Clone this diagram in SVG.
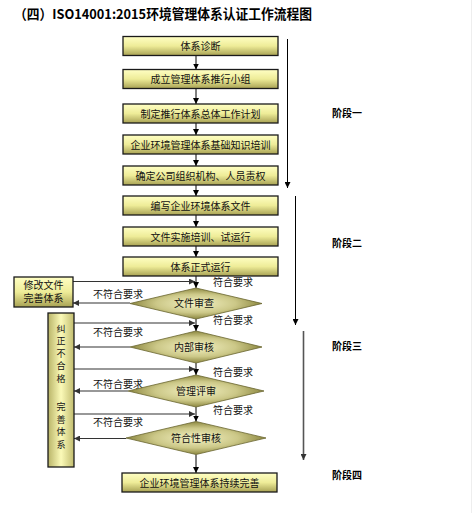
<svg xmlns="http://www.w3.org/2000/svg" width="472" height="513" viewBox="0 0 472 513">
<defs>
<linearGradient id="gBox" x1="0" y1="0" x2="0" y2="1">
<stop offset="0" stop-color="#ffffc4"/>
<stop offset="0.5" stop-color="#eeec98"/>
<stop offset="1" stop-color="#a8a254"/>
</linearGradient>
<linearGradient id="gTall" x1="0" y1="0" x2="1" y2="0">
<stop offset="0" stop-color="#b9b468"/>
<stop offset="0.5" stop-color="#fbfab8"/>
<stop offset="1" stop-color="#c2bd70"/>
</linearGradient>
<radialGradient id="gDia" cx="0.5" cy="0.5" r="0.5">
<stop offset="0" stop-color="#f4f2c4"/>
<stop offset="0.6" stop-color="#ccc888"/>
<stop offset="1" stop-color="#8c8740"/>
</radialGradient>
<marker id="ah" markerUnits="userSpaceOnUse" markerWidth="6" markerHeight="6" refX="6" refY="3" orient="auto">
<path d="M0,0 L6,3 L0,6 z" fill="#000"/>
</marker>
<marker id="ahg" markerUnits="userSpaceOnUse" markerWidth="6" markerHeight="6" refX="6" refY="3" orient="auto">
<path d="M0,0 L6,3 L0,6 z" fill="#333"/>
</marker>
</defs>
<style>
.box{fill:url(#gBox);stroke:#1a1a1a;stroke-width:1.3}
.tall{fill:url(#gTall);stroke:#1a1a1a;stroke-width:1.3}
.dia{fill:url(#gDia);stroke:#6a6630;stroke-width:0.8}
.t{font-family:"Noto Sans CJK SC","Liberation Sans",sans-serif;font-size:10px;fill:#111;text-anchor:middle}
.v{font-family:"Noto Sans CJK SC","Liberation Sans",sans-serif;font-size:9px;fill:#111;text-anchor:middle}
.lab{font-family:"Noto Sans CJK SC","Liberation Sans",sans-serif;font-size:10px;fill:#111}
.stage{font-family:"Noto Sans CJK SC","Liberation Sans",sans-serif;font-size:10px;font-weight:bold;fill:#000}
.title{font-family:"Noto Sans CJK SC","Liberation Serif",serif;font-size:13.5px;font-weight:bold;fill:#000}
.ln{stroke:#000;stroke-width:1;fill:none;marker-end:url(#ah)}
.fb{stroke:#333;stroke-width:1.2;fill:none;marker-end:url(#ahg)}
</style>
<rect x="0" y="0" width="472" height="513" fill="#fff"/>
<rect x="471" y="0" width="1" height="513" fill="#eeeeee"/>
<text class="title" x="14" y="19" textLength="298" lengthAdjust="spacingAndGlyphs">（四）ISO14001:2015环境管理体系认证工作流程图</text>

<g id="connectors">
<line class="ln" x1="196" y1="55.5" x2="196" y2="69.5"/>
<line class="ln" x1="196" y1="88.5" x2="196" y2="104"/>
<line class="ln" x1="196" y1="123" x2="196" y2="135"/>
<line class="ln" x1="196" y1="154" x2="196" y2="166"/>
<line class="ln" x1="196" y1="185" x2="196" y2="196"/>
<line class="ln" x1="196" y1="215" x2="196" y2="227"/>
<line class="ln" x1="196" y1="246" x2="196" y2="257"/>
<line class="ln" x1="196" y1="276" x2="196" y2="288"/>
<line class="ln" x1="196" y1="319" x2="196" y2="331"/>
<line class="ln" x1="196" y1="363" x2="196" y2="375"/>
<line class="ln" x1="196" y1="407" x2="196" y2="421.5"/>
<line class="ln" x1="196" y1="454.5" x2="196" y2="473"/>
<line class="fb" x1="73" y1="281.5" x2="195" y2="281.5"/>
<line class="fb" x1="130" y1="303" x2="73" y2="303"/>
<line class="fb" x1="74" y1="323" x2="195" y2="323"/>
<line class="fb" x1="130" y1="347" x2="74" y2="347"/>
<line class="fb" x1="74" y1="369" x2="195" y2="369"/>
<line class="fb" x1="128" y1="391" x2="74" y2="391"/>
<line class="fb" x1="74" y1="414" x2="195" y2="414"/>
<line class="fb" x1="126" y1="438.5" x2="74" y2="438.5"/>
<line class="ln" x1="287.5" y1="39" x2="287.5" y2="188"/>
<line class="ln" x1="295.5" y1="196" x2="295.5" y2="325"/>
<line class="fb" x1="303.5" y1="331" x2="303.5" y2="460" style="stroke:#555;stroke-width:1.6"/>
</g>

<g id="labels">
<text class="lab" x="93" y="298">不符合要求</text>
<text class="lab" x="93" y="335.5">不符合要求</text>
<text class="lab" x="93" y="388">不符合要求</text>
<text class="lab" x="93" y="426">不符合要求</text>
<text class="lab" x="213" y="285.5">符合要求</text>
<text class="lab" x="213" y="323.5">符合要求</text>
<text class="lab" x="213" y="375.5">符合要求</text>
<text class="lab" x="213" y="413.5">符合要求</text>
<text class="stage" x="332" y="117">阶段一</text>
<text class="stage" x="332" y="246.5">阶段二</text>
<text class="stage" x="332" y="350">阶段三</text>
<text class="stage" x="332" y="478.5">阶段四</text>
</g>

<g id="n1"><rect class="box" x="123" y="36.5" width="155" height="19"/><text class="t" x="200.5" y="50">体系诊断</text></g>
<g id="n2"><rect class="box" x="123" y="69.5" width="155" height="19"/><text class="t" x="200.5" y="83">成立管理体系推行小组</text></g>
<g id="n3"><rect class="box" x="123" y="104" width="155" height="19"/><text class="t" x="200.5" y="117.5">制定推行体系总体工作计划</text></g>
<g id="n4"><rect class="box" x="123" y="135" width="155" height="19"/><text class="t" x="200.5" y="148.5">企业环境管理体系基础知识培训</text></g>
<g id="n5"><rect class="box" x="123" y="166" width="155" height="19"/><text class="t" x="200.5" y="179.5">确定公司组织机构、人员责权</text></g>
<g id="n6"><rect class="box" x="123" y="196" width="155" height="19"/><text class="t" x="200.5" y="209.5">编写企业环境体系文件</text></g>
<g id="n7"><rect class="box" x="123" y="227" width="155" height="19"/><text class="t" x="200.5" y="240.5">文件实施培训、试运行</text></g>
<g id="n8"><rect class="box" x="123" y="257" width="155" height="19"/><text class="t" x="200.5" y="270.5">体系正式运行</text></g>

<g id="d1"><polygon class="dia" points="130,303.5 196,288 262,303.5 196,319"/><text class="t" x="194" y="307">文件审查</text></g>
<g id="d2"><polygon class="dia" points="130,347 196,331 262,347 196,363"/><text class="t" x="194" y="350.5">内部审核</text></g>
<g id="d3"><polygon class="dia" points="128,391 196,375 264,391 196,407"/><text class="t" x="196" y="394.5">管理评审</text></g>
<g id="d4"><polygon class="dia" points="126,438 196,421.5 266,438 196,454.5"/><text class="t" x="196" y="441.5">符合性审核</text></g>

<g id="n9"><rect class="box" x="122" y="473" width="155" height="19"/><text class="t" x="199.5" y="486.5">企业环境管理体系持续完善</text></g>

<g id="fix1"><rect class="box" x="14" y="277" width="59" height="30"/>
<text class="t" x="43.5" y="288.5">修改文件</text>
<text class="t" x="43.5" y="302">完善体系</text></g>

<g id="fix2"><rect class="tall" x="48" y="313" width="26" height="154"/>
<text class="v" x="61" y="331.5">纠</text>
<text class="v" x="61" y="344">正</text>
<text class="v" x="61" y="356.5">不</text>
<text class="v" x="61" y="369">合</text>
<text class="v" x="61" y="381.5">格</text>
<text class="v" x="61" y="410">完</text>
<text class="v" x="61" y="422.5">善</text>
<text class="v" x="61" y="435">体</text>
<text class="v" x="61" y="447.5">系</text>
</g>
</svg>
